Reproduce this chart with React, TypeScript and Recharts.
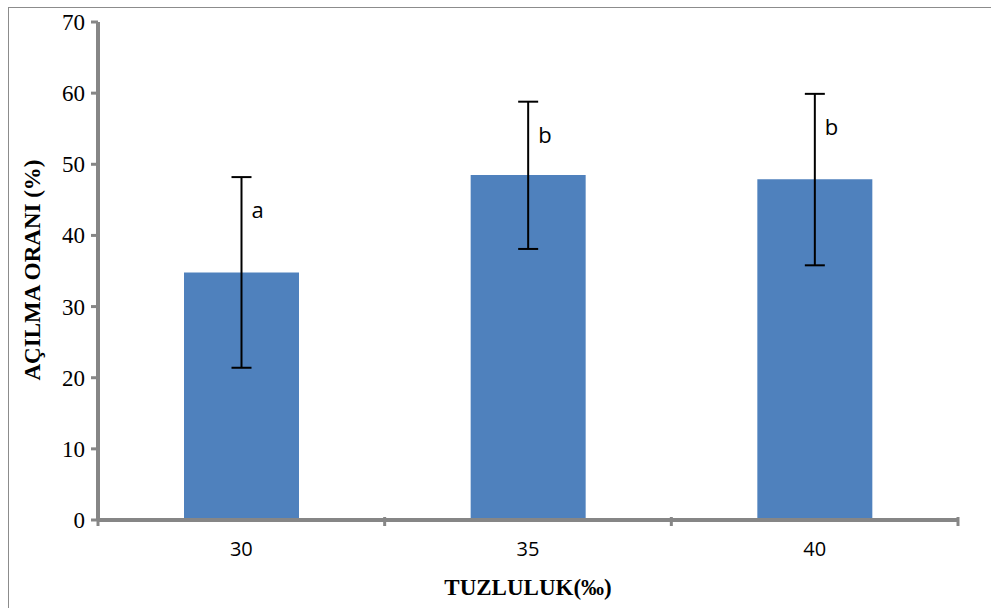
import { BarChart, Bar, XAxis, YAxis, ErrorBar, LabelList, Label } from 'recharts';

// values
const salinity = ['30', '35', '40'];
const openingRate = [34.8, 48.5, 47.9];
const lowerEnd = [21.4, 38.1, 35.8];
const upperEnd = [48.2, 58.8, 59.9];
const groupLetters = ['a', 'b', 'b'];
const yTicks = [0, 10, 20, 30, 40, 50, 60, 70];

const data = salinity.map((s, i) => ({
  name: s,
  value: openingRate[i],
  err: [openingRate[i] - lowerEnd[i], upperEnd[i] - openingRate[i]],
}));

const AXIS = '#868686';

const XTick = ({ x, y, payload, index, visibleTicksCount }: any) => {
  const band = 860 / 3;
  const last = index === (visibleTicksCount ?? 3) - 1;
  return (
    <g>
      <line x1={x - band / 2} x2={x - band / 2} y1={y - 11} y2={y - 2} stroke={AXIS} strokeWidth={3} />
      {last && <line x1={x + band / 2} x2={x + band / 2} y1={y - 11} y2={y - 2} stroke={AXIS} strokeWidth={3} />}
      <text x={x} y={y + 28} textAnchor="middle" fontFamily="'Open Sans', sans-serif" fontSize={20} fill="#000">
        {payload.value}
      </text>
    </g>
  );
};

const YTick = ({ x, y, payload }: any) => (
  <text x={x - 2} y={y + 8} textAnchor="end" fontFamily="'Liberation Serif', serif" fontSize={23} fill="#000">
    {payload.value}
  </text>
);

const Letter = ({ x, y, width, height, value, index }: any) => {
  const perUnit = height / value;
  const yTop = y - (upperEnd[index] - value) * perUnit;
  return (
    <text x={x + width / 2 + 10} y={yTop + 41} fontFamily="'Open Sans', sans-serif" fontSize={22} fill="#000">
      {groupLetters[index]}
    </text>
  );
};

export default function App() {
  return (
    <div style={{ position: 'absolute', left: 0, top: 0, width: 991, height: 608, overflow: 'hidden', background: '#fff' }}>
      <div style={{ position: 'absolute', left: 8, top: 7, width: 1100, height: 800, border: '1px solid #8c8c8c' }} />
      <div style={{ position: 'absolute', left: 0, top: 0 }}>
        <BarChart width={991} height={608} data={data} margin={{ top: 22, right: 33, left: 38, bottom: 58 }} barCategoryGap="30%">
          <XAxis
            dataKey="name"
            axisLine={{ stroke: AXIS, strokeWidth: 4 }}
            tickLine={false}
            tick={<XTick />}
            height={30}
            interval={0}
          >
            <Label
              content={() => (
                <text x={528} y={595} textAnchor="middle" fontFamily="'Liberation Serif', serif" fontWeight="bold" fontSize={23} fill="#000">
                  TUZLULUK(‰)
                </text>
              )}
            />
          </XAxis>
          <YAxis
            domain={[0, 70]}
            ticks={yTicks}
            width={60}
            axisLine={{ stroke: AXIS, strokeWidth: 4 }}
            tickLine={{ stroke: AXIS, strokeWidth: 3 }}
            tickSize={7}
            tick={<YTick />}
            tickMargin={4}
          >
            <Label
              content={() => (
                <text
                  x={40}
                  y={270}
                  transform="rotate(-90 40 270)"
                  textAnchor="middle"
                  fontFamily="'Liberation Serif', serif"
                  fontWeight="bold"
                  fontSize={23}
                  fill="#000"
                >
                  AÇILMA ORANI (%)
                </text>
              )}
            />
          </YAxis>
          <Bar dataKey="value" fill="#4F81BD" isAnimationActive={false}>
            <ErrorBar dataKey="err" width={10} stroke="#000" strokeWidth={2} />
            <LabelList dataKey="value" content={<Letter />} />
          </Bar>
        </BarChart>
      </div>
    </div>
  );
}
